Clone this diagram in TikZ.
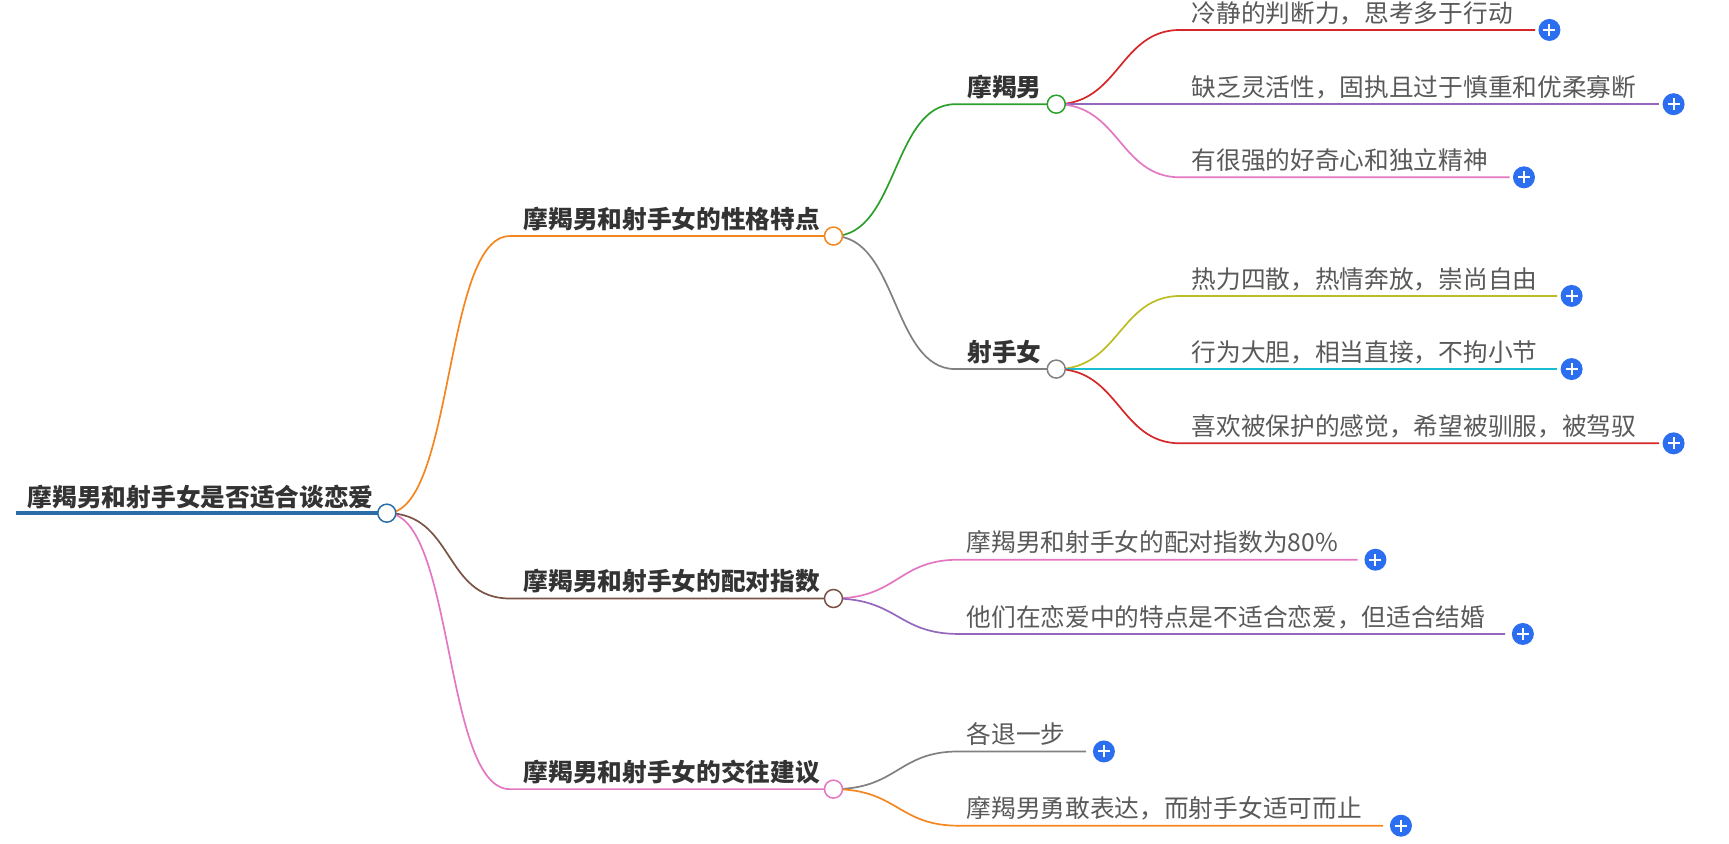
\documentclass[tikz,border=0pt]{standalone}
\usepackage{fontspec}
\setmainfont{Noto Sans CJK SC}
\definecolor{rootblue}{HTML}{2A6CA6}
\definecolor{orn}{HTML}{F5861F}
\definecolor{brn}{HTML}{7B5344}
\definecolor{pnk}{HTML}{E377C2}
\definecolor{grn}{HTML}{2CA02C}
\definecolor{gry}{HTML}{808080}
\definecolor{rd}{HTML}{D62728}
\definecolor{ppl}{HTML}{9467BD}
\definecolor{olv}{HTML}{BCBD22}
\definecolor{tl}{HTML}{17BECF}
\definecolor{plusblue}{HTML}{2B6FF0}
\tikzset{
  dot/.style={circle, draw=#1, fill=white, line width=1.5pt, inner sep=0pt, minimum size=18pt},
  main/.style={font=\fontsize{24.7}{24.7}\selectfont\bfseries, text=black!80, anchor=base east, inner sep=0pt},
  leaf/.style={font=\fontsize{24.7}{24.7}\selectfont, text=black!65, anchor=base west, inner sep=0pt},
  link/.style={line width=1.7pt, #1},
  plus/.style={circle, fill=plusblue, inner sep=0pt, minimum size=22pt,
    path picture={\draw[white, line width=2pt] ([xshift=-6pt]path picture bounding box.center) -- ([xshift=6pt]path picture bounding box.center)
      ([yshift=-6pt]path picture bounding box.center) -- ([yshift=6pt]path picture bounding box.center);}}
}
\begin{document}
\begin{tikzpicture}[x=1.1085pt, y=-1.1085pt]
\useasboundingbox (0,0) rectangle (1560,761.4);
% root
\node[main, anchor=base west] (root) at (25,457) {摩羯男和射手女是否适合谈恋爱};
\draw[rootblue, line width=3.8pt] (14,463) -- (349,463);
\coordinate (r) at (349,463);
% level 1
\foreach \y/\col/\txt/\nm in {213/orn/摩羯男和射手女的性格特点/p, 540/brn/摩羯男和射手女的配对指数/m, 712/pnk/摩羯男和射手女的交往建议/s}{
  \coordinate (\nm) at (752,\y);
  \coordinate (\nm s) at (460,\y);
  \draw[link=\col] (r) .. controls (410,463) and (400,\y) .. (\nm s) -- (\nm);
  \node[main] (\nm t) at (740,\y-7) {\txt};
}
% level 2
\foreach \y/\col/\txt/\nm in {94/grn/摩羯男/a, 333/gry/射手女/b}{
  \coordinate (\nm) at (953,\y);
  \coordinate (\nm s) at (862,\y);
  \draw[link=\col] (p) .. controls (810,213) and (805,\y) .. (\nm s) -- (\nm);
  \node[main] (\nm t) at (940,\y-7) {\txt};
}
% leaves
\foreach \pn/\py/\y/\xe/\col/\txt in {
  a/94/27/1385/rd/冷静的判断力，思考多于行动,
  a/94/94/1497/ppl/缺乏灵活性，固执且过于慎重和优柔寡断,
  a/94/160/1362/pnk/有很强的好奇心和独立精神,
  b/333/267/1405/olv/热力四散，热情奔放，崇尚自由,
  b/333/333/1405/tl/行为大胆，相当直接，不拘小节,
  b/333/400/1497/rd/喜欢被保护的感觉，希望被驯服，被驾驭}{
  \coordinate (s\y) at (1065,\y);
  \coordinate (e\y) at (\xe,\y);
  \draw[link=\col] (\pn) .. controls (1010,\py) and (1010,\y) .. (s\y) -- (e\y);
  \node[leaf] (t\y) at (1075,\y-7) {\txt};
  \node[plus] (q\y) at (\xe+13,\y) {};
}
\foreach \pn/\py/\y/\xe/\col/\txt in {
  m/540/505/1225/pnk/摩羯男和射手女的配对指数为80\%,
  m/540/572/1358/ppl/他们在恋爱中的特点是不适合恋爱，但适合结婚,
  s/712/678/980/gry/各退一步,
  s/712/745/1248/orn/摩羯男勇敢表达，而射手女适可而止}{
  \coordinate (s\y) at (865,\y);
  \coordinate (e\y) at (\xe,\y);
  \draw[link=\col] (\pn) .. controls (810,\py) and (810,\y) .. (s\y) -- (e\y);
  \node[leaf] (t\y) at (872,\y-7) {\txt};
  \node[plus] (q\y) at (\xe+16,\y) {};
}
% circles on top
\node[dot=rootblue] at (r) {};
\node[dot=orn] at (p) {};
\node[dot=brn] at (m) {};
\node[dot=pnk] at (s) {};
\node[dot=grn] at (a) {};
\node[dot=gry] at (b) {};
\end{tikzpicture}
\end{document}
